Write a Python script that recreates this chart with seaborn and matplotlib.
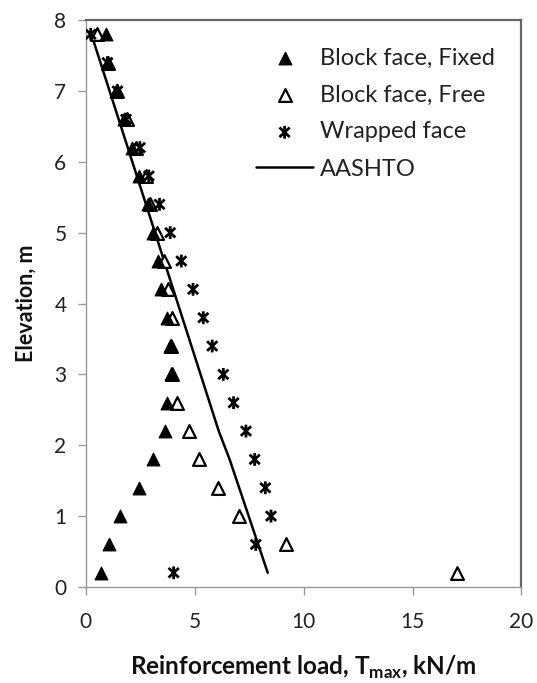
import matplotlib
matplotlib.use("Agg")
import matplotlib.pyplot as plt
from matplotlib.path import Path
import seaborn as sns
import numpy as np
import pandas as pd

# ---- data ----
elev = [0.2, 0.6, 1.0, 1.4, 1.8, 2.2, 2.6, 3.0, 3.4, 3.8, 4.2, 4.6, 5.0, 5.4, 5.8, 6.2, 6.6, 7.0, 7.4, 7.8]
fixed = [0.68, 1.06, 1.57, 2.45, 3.07, 3.61, 3.72, 3.92, 3.87, 3.72, 3.46, 3.30, 3.07, 2.84, 2.42, 2.11, 1.76, 1.40, 1.03, 0.90]
free = [17.05, 9.2, 7.05, 6.05, 5.2, 4.74, 4.2, 3.95, 3.9, 3.95, 3.77, 3.6, 3.26, 2.95, 2.76, 2.3, 1.9, 1.45, 1.0, 0.5]
wrapped = [4.03, 7.8, 8.5, 8.24, 7.75, 7.35, 6.78, 6.31, 5.80, 5.39, 4.92, 4.38, 3.87, 3.38, 2.89, 2.48, 1.84, 1.45, 0.99, 0.22]
aashto_elev = [7.8, 2.2, 1.8, 0.2]
aashto_load = [0.25, 6.1, 6.6, 8.35]

x_ticks = [0, 5, 10, 15, 20]
y_ticks = [0, 1, 2, 3, 4, 5, 6, 7, 8]

sns.set_style("white")
plt.rcParams['font.family'] = ['Lato', 'DejaVu Sans']
plt.rcParams['mathtext.fontset'] = 'custom'
plt.rcParams['mathtext.rm'] = 'Lato'
plt.rcParams['mathtext.bf'] = 'Lato:bold'

fig = plt.figure(figsize=(5.37, 6.83), dpi=100)
ax = fig.add_axes([0.160, 0.1406, 0.811, 0.830])

# Excel-style star marker: X plus vertical bar
star = Path([(0, -1), (0, 1), (-0.8, -0.75), (0.8, 0.75), (-0.8, 0.75), (0.8, -0.75)],
            [Path.MOVETO, Path.LINETO, Path.MOVETO, Path.LINETO, Path.MOVETO, Path.LINETO])

sns.scatterplot(x=free, y=elev, marker='^', s=85, facecolor='white', edgecolor='black',
                linewidth=1.6, ax=ax, label='Block face, Free', zorder=3)
sns.scatterplot(x=fixed, y=elev, marker='^', s=85, color='black', edgecolor='black',
                linewidth=0.8, ax=ax, label='Block face, Fixed', zorder=4)
sns.scatterplot(x=wrapped, y=elev, marker=star, s=85, facecolor='none', edgecolor='black',
                linewidth=2.0, ax=ax, label='Wrapped face', zorder=3)
sns.lineplot(x=aashto_load, y=aashto_elev, sort=False, estimator=None, color='black',
             linewidth=1.8, ax=ax, label='AASHTO', zorder=2)

ax.set_xlim(0, 20)
ax.set_ylim(0, 8)
ax.set_xticks(x_ticks)
ax.set_yticks(y_ticks)
ax.tick_params(axis='both', labelsize=15, labelcolor='#222222', length=6, width=1,
               direction='out', color='#999999')
ax.tick_params(axis='x', bottom=True, pad=12)
ax.tick_params(axis='y', left=True, pad=8)

for side in ['left', 'bottom']:
    ax.spines[side].set_color('#999999')
    ax.spines[side].set_linewidth(1.0)
for side in ['top', 'right']:
    ax.spines[side].set_color('#666666')
    ax.spines[side].set_linewidth(1.6)

ax.set_xlabel(r'Reinforcement load, T$_{\mathbf{max}}$, kN/m', fontsize=17.5,
              fontweight='bold', labelpad=16, color='#111111')
ax.set_ylabel('Elevation, m', fontsize=15.5, fontweight='bold', labelpad=13,
              color='#111111')

handles, labels = ax.get_legend_handles_labels()
order = [labels.index(l) for l in ['Block face, Fixed', 'Block face, Free', 'Wrapped face', 'AASHTO']]
leg = ax.legend([handles[i] for i in order], [labels[i] for i in order],
                loc='upper right', bbox_to_anchor=(0.977, 0.981), frameon=False,
                fontsize=17, handlelength=2.4, handletextpad=0.3,
                labelspacing=0.68, borderaxespad=0.3)
for t in leg.get_texts():
    t.set_color('#222222')

fig.savefig('out.png', dpi=100)
